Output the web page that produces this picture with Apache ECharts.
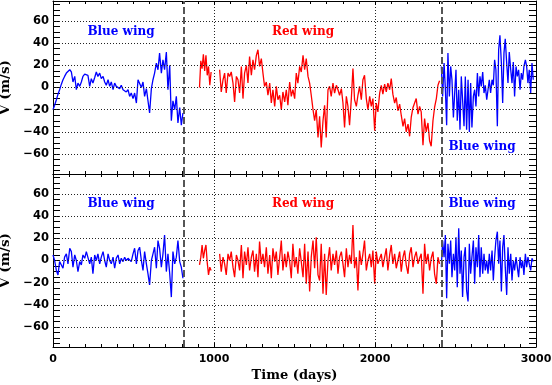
<!DOCTYPE html>
<html>
<head>
<meta charset="utf-8">
<title>V (m/s) - Time (days)</title>
<script src="https://cdn.jsdelivr.net/npm/echarts@6/dist/echarts.min.js"></script>
<style>
  html, body { margin: 0; padding: 0; background: #fff; }
  #chart { width: 552px; height: 385px; }
</style>
</head>
<body>
<div id="chart"></div>
<script>
// time samples (days) of each segment, shared by both panels
var blue1Days = [0,10,21,31,41,52,62,72,83,93,104,114,124,135,145,155,166,176,186,197,
  207,217,228,238,248,259,269,279,290,300,311,321,331,342,352,362,373,383,393,404,
  414,424,435,445,455,466,476,486,497,507,518,528,538,549,559,569,580,590,600,611,
  621,631,642,652,662,673,683,693,704,714,725,735,745,756,766,776,787,797,807];
var red1Days = [910,918,926,934,942,950,958,966,974,982];
var red2Days = [1035,1045,1056,1066,1076,1087,1097,1107,1118,1128,1139,1149,1159,1170,1180,1190,1201,1211,1221,1232,
  1242,1252,1263,1273,1283,1294,1304,1314,1325,1335,1346,1356,1366,1377,1387,1397,1408,1418,1428,1439,
  1449,1459,1470,1480,1490,1501,1511,1521,1532,1542,1553,1563,1573,1584,1594,1604,1615,1625,1635,1646,
  1656,1666,1677,1687,1697,1708,1718,1728,1739,1749,1760,1770,1780,1791,1801,1811,1822,1832,1842,1853,
  1863,1873,1884,1894,1904,1915,1925,1935,1946,1956,1967,1977,1987,1998,2008,2018,2029,2039,2049,2060,
  2070,2080,2091,2101,2111,2122,2132,2142,2153,2163,2174,2184,2194,2205,2215,2225,2236,2246,2256,2267,
  2277,2287,2298,2308,2318,2329,2339,2349,2360,2370,2381,2391,2401];
var blue2Days = [2412,2420,2429,2437,2445,2453,2462,2470,2478,2487,2495,2503,2511,2520,2528,2536,2544,2553,2561,2569,2578,2586,2594,2602,2611,
  2619,2627,2636,2644,2652,2660,2669,2677,2685,2694,2702,2710,2718,2727,2735,2743,2751,2760,2768,2776,2785,2793,2801,2809,2818,
  2826,2834,2843,2851,2859,2867,2876,2884,2892,2901,2909,2917,2925,2934,2942,2950,2958,2967,2975,2983];

// upper panel V (m/s)
var blue1Top = [-20,-16,-11,-6,-2,3,7,10,13,12, 16,14,5,10,-2,4,1,5,10,12, 13,11,1,8,4,9,14,10,13,8,
  10,5,2,7,1,5,-2,4,1,2, -1,2,-2,-1,-4,-2,-8,-5,-10,-5, -14,7,8,0,5,-8,-1,-2,-23,-1,
  7,13,22,16,31,13,25,16,32,-2, 20,-30,-12,-20,-8,-32,-18,-34,-23];
var red1Top = [0,24,17,30,15,29,11,19,2,14];
var red2Top = [16,-4,7,13,-5,13,10,14,4,-13, 10,7,-5,19,-10,13,20,4,28,11, 25,16,29,34,19,26,13,1,5,-7,
  4,-14,-2,-17,1,-11,-7,-20,-4,-13, -2,-16,5,-8,-2,-10,13,4,19,14, 29,16,26,10,4,-7,-20,-30,-20,-45,
  -26,-54,-30,-16,-45,-2,1,-8,4,-5, 2,-2,-7,-1,-14,-36,-8,-17,-34,-10, 17,-11,-17,-7,1,-11,7,11,-10,-20,
  -8,-17,-10,-39,-14,-22,
  -5,2,-6,3,-4,4,-2,8,-6,-14, -9,-21,-15,-25,-35,-28,-40,-33,-44,-27, -18,-14,-10,-24,-17,-22,-52,-28,-40,-32,
  -48,-53,-30,-18,-10,2,6];
var blue2Top = [19,-8,22,-1,-34,31,-8,19,7,-27, -5,16,-30,-2,-38,10,-11,-35,10,-38, 7,-40,4,-36,-8,-2,-17,13,-8,10,
  1,14,-5,2,-11,-2,7,-5,7,2, 25,16,-35,34,47,22,-14,31,44,22, 4,32,16,4,23,-8,19,10,16,-2,
  13,7,19,25,19,4,16,-5,22,7];

// lower panel V (m/s)
var blue1Bot = [5,0,-9,-13,-1,-4,-7,3,6,-3, 11,8,-6,5,0,-10,-1,-4,5,2, 8,9,-3,3,-12,5,0,6,-3,3,
  8,0,-6,6,0,-3,3,-7,2,5, -3,2,-1,3,0,2,3,-1,6,11, -3,9,12,0,-9,8,-3,-12,-22,0,
  6,12,-7,18,11,-6,6,23,-10,6, -12,-33,8,-3,3,18,-1,-6,-16];
var red1Bot = [-4,3,14,2,9,14,-2,-13,-6,-9];
var red2Bot = [6,-10,3,-3,-13,6,0,8,-6,-15, 5,0,-9,14,-16,8,-4,12,-9,3, 9,-10,6,-15,17,-3,6,-6,12,-12,
  5,-16,11,-1,8,-13,3,18,-9,6, -6,8,-1,-16,15,-6,3,-12,11,-1, -15,15,-21,8,-28,3,18,-7,21,-13,
  -18,15,-30,6,-31,0,12,-9,6,-4, 9,-12,3,8,-3,-15,11,-6,5,-3, 32,-7,3,-27,9,-4,6,18,-9,0,
  6,-6,9,-21,8,-3,
  -3,6,-6,3,11,-9,5,14,-3,6, -7,0,8,-10,3,9,-4,-12,6,12, -6,3,8,-3,2,6,-30,15,-3,6,
  -9,2,8,-12,-21,3,-3];
var blue2Bot = [-6,18,3,23,-34,15,-3,18,-15,6, -9,21,-24,29,-12,9,-33,3,12,-27, -37,15,-12,3,18,-21,12,-6,23,-15,
  12,-12,6,-9,0,-12,6,-9,9,-18, 3,18,26,-3,18,-28,12,23,-6,-31, 12,-12,6,-18,0,-9,3,-6,-15,3,
  -7,0,-13,6,-6,3,-3,-9,2,-1];

// axes
var yLabelVals = [-60,-40,-20,0,20,40,60];
var yTickVals = [-75,-70,-65,-60,-55,-50,-45,-40,-35,-30,-25,-20,-15,-10,-5,0,5,10,15,20,25,30,35,40,45,50,55,60,65,70,75];
var wingBreaks = [815, 2413];   // dashed separators (days)

var numFont = 'DejaVu Sans';
var txtFont = 'DejaVu Serif';

var chart = echarts.init(document.getElementById('chart'));

function pairs(days, vals) {
  return days.map(function (d, i) { return [d, vals[i]]; });
}

function xAxisFor(gridIndex, pos, withLabels) {
  return {
    type: 'value', gridIndex: gridIndex, position: pos,
    min: 0, max: 3000, interval: 1000,
    axisLine: { show: true, onZero: false, lineStyle: { color: '#000', width: 1 } },
    axisTick: { show: true, inside: true, length: 4, lineStyle: { color: '#000' } },
    minorTick: { show: true, splitNumber: 10, length: 3, lineStyle: { color: '#000' } },
    axisLabel: {
      show: withLabels, margin: 7, color: '#000',
      fontFamily: numFont, fontWeight: 'bold', fontSize: 11,
      formatter: function (v) { return String(v); }
    },
    splitLine: { show: pos === 'bottom', lineStyle: { color: '#222', width: 1, type: [1, 2] } },
    name: withLabels ? 'Time (days)' : '',
    nameLocation: 'middle', nameGap: 22,
    nameTextStyle: { fontFamily: txtFont, fontWeight: 'bold', fontSize: 13, color: '#000' }
  };
}

function yAxisFor(gridIndex, pos, withLabels) {
  return {
    type: 'value', gridIndex: gridIndex, position: pos,
    min: -78, max: 78,
    axisLine: { show: true, onZero: false, lineStyle: { color: '#000', width: 1 } },
    axisTick: { show: true, inside: true, length: 7, customValues: yTickVals, lineStyle: { color: '#000' } },
    axisLabel: {
      show: withLabels, customValues: yLabelVals, margin: 4, color: '#000',
      fontFamily: numFont, fontWeight: 'bold', fontSize: 11.5,
      formatter: function (v) { return String(v).replace('-', '\u2212'); }
    },
    splitLine: { show: false },
    name: withLabels ? 'V (m/s)' : '',
    nameLocation: 'middle', nameGap: 35,
    nameTextStyle: { fontFamily: txtFont, fontWeight: 'bold', fontSize: 13.5, color: '#000' }
  };
}

function lineSeries(panel, days, vals, color) {
  return {
    type: 'line', xAxisIndex: panel * 2, yAxisIndex: panel * 2,
    data: pairs(days, vals),
    showSymbol: false, symbol: 'none', silent: true, animation: false, z: 3,
    lineStyle: { color: color, width: 1.3 }, itemStyle: { color: color }
  };
}

// dotted horizontal grid + dashed wing separators
function guideSeries(panel) {
  var marks = yLabelVals.map(function (v) {
    return { yAxis: v, lineStyle: { color: '#222', width: 1, type: [1, 2] } };
  });
  wingBreaks.forEach(function (d) {
    marks.push({ xAxis: d, lineStyle: { color: '#555', width: 2, type: [7, 3] } });
  });
  return {
    type: 'line', xAxisIndex: panel * 2, yAxisIndex: panel * 2, data: [], z: 1,
    silent: true, animation: false,
    markLine: { symbol: ['none', 'none'], silent: true, animation: false, label: { show: false }, data: marks }
  };
}

function wingText(x, y, text, color) {
  return {
    type: 'text', x: x, y: y, silent: true,
    style: { text: text, fill: color, font: 'bold 12px "DejaVu Serif"', align: 'center', verticalAlign: 'middle' }
  };
}

var BLUE = '#0000ff', RED = '#ff0000';

chart.setOption({
  animation: false,
  backgroundColor: '#fff',
  grid: [
    { left: 53, right: 16, top: 1, height: 173, outerBoundsMode: 'none', containLabel: false },
    { left: 53, right: 16, top: 174, height: 173, outerBoundsMode: 'none', containLabel: false }
  ],
  xAxis: [xAxisFor(0, 'bottom', false), xAxisFor(0, 'top', false), xAxisFor(1, 'bottom', true), xAxisFor(1, 'top', false)],
  yAxis: [yAxisFor(0, 'left', true), yAxisFor(0, 'right', false), yAxisFor(1, 'left', true), yAxisFor(1, 'right', false)],
  series: [
    guideSeries(0),
    guideSeries(1),
    lineSeries(0, blue1Days, blue1Top, BLUE),
    lineSeries(0, red1Days, red1Top, RED),
    lineSeries(0, red2Days, red2Top, RED),
    lineSeries(0, blue2Days, blue2Top, BLUE),
    lineSeries(1, blue1Days, blue1Bot, BLUE),
    lineSeries(1, red1Days, red1Bot, RED),
    lineSeries(1, red2Days, red2Bot, RED),
    lineSeries(1, blue2Days, blue2Bot, BLUE)
  ],
  graphic: [
    wingText(121, 32, 'Blue wing', BLUE),
    wingText(303, 32, 'Red wing', RED),
    wingText(482, 147, 'Blue wing', BLUE),
    wingText(121, 204, 'Blue wing', BLUE),
    wingText(303, 204, 'Red wing', RED),
    wingText(482, 204, 'Blue wing', BLUE)
  ]
});
</script>
</body>
</html>
